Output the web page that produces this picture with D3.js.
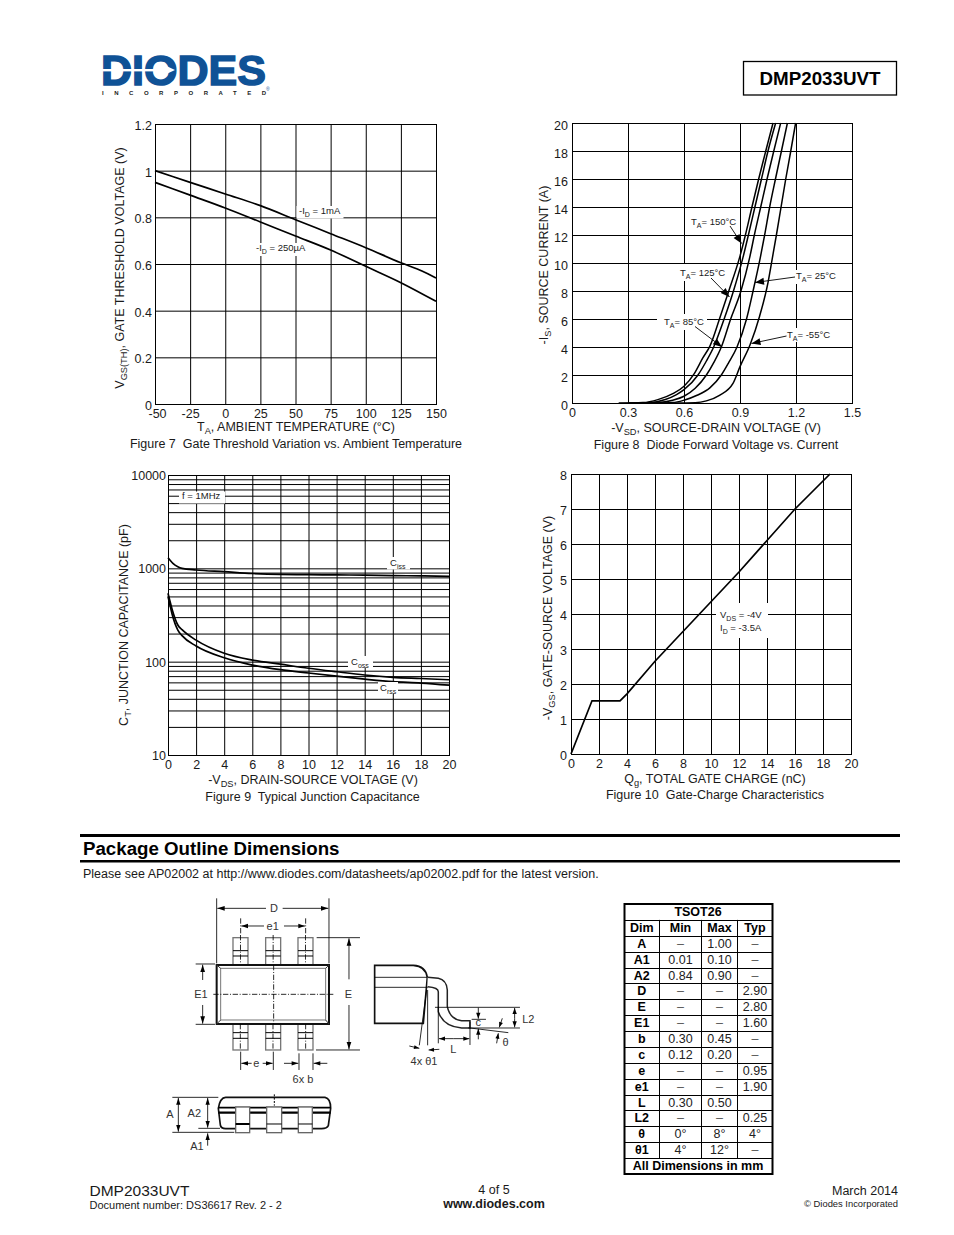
<!DOCTYPE html>
<html><head><meta charset="utf-8">
<script src="https://cdn.jsdelivr.net/npm/d3@7/dist/d3.min.js"></script>
<style>
html,body{margin:0;padding:0;background:#fff}
svg{display:block}
text{font-family:"Liberation Sans",Arial,sans-serif;fill:#1a1a1a;white-space:pre}
</style></head><body>
<svg id="page" width="954" height="1235"></svg>
<script>
// ---------- Data ----------
// Figure 7
const fig7Temp1mA   = [-50,-25,0,25,50,75,100,125,140,150];
const fig7Vth1mA    = [1.0,.95,.90,.85,.79,.73,.67,.605,.57,.54];
const fig7Temp250uA = [-50,-25,0,25,50,75,100,125,150];
const fig7Vth250uA  = [.95,.895,.84,.78,.72,.66,.59,.52,.44];
const fig7XTicks = [-50,-25,0,25,50,75,100,125,150];
const fig7YTicks = [0,.2,.4,.6,.8,1,1.2];
// Figure 8 (V, A)
const fig8V150 = [.25,.38,.46,.54,.60,.655,.70,.74,.79,.84,.898,.929,.964,1.0,1.038,1.077];
const fig8I150 = [0,.03,.24,.67,1.2,2.1,3.2,4.1,6,8,10.4,12,14,16,18,20];
const fig8V125 = [.30,.42,.50,.56,.60,.675,.72,.759,.815,.865,.916,.945,.98,1.015,1.05,1.091];
const fig8I125 = [0,.03,.25,.6,.95,2,3,4,6,8,10.4,12,14,16,18,20];
const fig8V85  = [.35,.46,.54,.60,.66,.72,.76,.80,.85,.905,.952,.977,1.011,1.045,1.081,1.118];
const fig8I85  = [0,.03,.2,.48,1.05,2,2.9,4,6,8,10.4,12,14,16,18,20];
const fig8V25  = [.45,.54,.60,.67,.74,.80,.84,.884,.935,.97,1.009,1.032,1.059,1.09,1.122,1.154];
const fig8I25  = [0,.03,.2,.55,1.1,2,2.9,4,6,8,10.4,12,14,16,18,20];
const fig8Vm55 = [.55,.66,.72,.79,.8625,.90,.955,1.005,1.05,1.074,1.095,1.12,1.145,1.172,1.198];
const fig8Im55 = [0,.02,.15,.55,1.4,2.6,4.2,6.2,8.6,10.4,12,14,16,18,20];
const fig8XTicks = [0,.3,.6,.9,1.2,1.5];
const fig8YTicks = [0,2,4,6,8,10,12,14,16,18,20];
// Figure 9 (V, pF)
const fig9VCiss = [0,.15,.35,.7,1,2,4,6,8,10,12,14,16,18,20];
const fig9Ciss  = [1300,1220,1130,1040,1000,960,920,880,860,855,850,845,835,830,820];
const fig9VCoss = [0,.1,.3,.7,1,2,4,6,8,10,12,14,16,18,20];
const fig9Coss  = [540,470,360,247,220,170,123,104,94,85,78,72,68,66,64];
const fig9VCrss = [0,.1,.3,.7,1,2,4,6,8,10,12,14,16,18,20];
const fig9Crss  = [500,430,320,218,190,147,110,92,82,75.6,70,65,61,59,56];
const fig9XTicks = [0,2,4,6,8,10,12,14,16,18,20];
const fig9YLabels = [10,100,1000,10000];
const fig9YGrid = [20,30,40,50,60,70,80,90,100,200,300,400,500,600,700,800,900,1000,2000,3000,4000,5000,6000,7000,8000,9000,10000];
// Figure 10
const fig10Qg  = [0,1.5,3.5,4,6,8,10,12,14,16,18.5];
const fig10Vgs = [0,1.52,1.52,1.72,2.65,3.5,4.35,5.2,6.1,7,8];
const fig10XTicks = [0,2,4,6,8,10,12,14,16,18,20];
const fig10YTicks = [0,1,2,3,4,5,6,7,8];
// Dimensions table
const tableHeader = ["Dim","Min","Max","Typ"];
const tableDims = ["A","A1","A2","D","E","E1","b","c","e","e1","L","L2","θ","θ1"];
const tableMin  = ["–","0.01","0.84","–","–","–","0.30","0.12","–","–","0.30","–","0°","4°"];
const tableMax  = ["1.00","0.10","0.90","–","–","–","0.45","0.20","–","–","0.50","–","8°","12°"];
const tableTyp  = ["–","–","–","2.90","2.80","1.60","–","–","0.95","1.90","","0.25","4°","–"];

// ---------- Helpers ----------
const svg = d3.select("#page");
const INK = "#000";
const TITLE = 12.5, TICK = 12.5;

function rich(g, x, y, parts, o={}){
  const size = o.size||TITLE, t = g.append("text").attr("x",x).attr("y",y)
    .attr("font-size",size).attr("text-anchor",o.anchor||"start");
  if(o.weight) t.attr("font-weight",o.weight);
  if(o.rotate) t.attr("transform",`rotate(-90 ${x} ${y})`);
  let back = 0;
  parts.forEach(p=>{
    if(Array.isArray(p)){
      t.append("tspan").attr("font-size",size*.74).attr("dy",size*.27).text(p[0]);
      back = -size*.27;
    } else {
      const s=t.append("tspan").text(p);
      if(back) s.attr("dy",back);
      back = 0;
    }
  });
  return t;
}
function styleAxis(sel,shiftY){
  sel.select(".domain").remove();
  sel.selectAll("line").attr("stroke",INK).attr("stroke-width",1);
  sel.selectAll("text").attr("font-size",TICK).attr("fill","#1a1a1a")
    .attr("font-family",'"Liberation Sans",Arial,sans-serif');
  if(shiftY) sel.selectAll("text").attr("transform",`translate(0,${shiftY})`);
}
function makeFrame(left,top){
  return svg.append("g").attr("transform",`translate(${left},${top})`);
}
function frameRect(g,w,h){
  g.append("rect").attr("x",.5).attr("y",.5).attr("width",w).attr("height",h)
    .attr("fill","none").attr("stroke",INK).attr("stroke-width",1);
}
function curve(g,xs,ys,x,y,w=1.7){
  const line=d3.line().x(d=>x(d[0])).y(d=>y(d[1])).curve(d3.curveMonotoneX);
  g.append("path").attr("d",line(d3.zip(xs,ys))).attr("fill","none")
    .attr("stroke",INK).attr("stroke-width",w).attr("stroke-linejoin","round");
}
function whiteBox(x0,y0,x1,y1){
  svg.append("rect").attr("x",x0).attr("y",y0).attr("width",x1-x0).attr("height",y1-y0).attr("fill","#fff");
}
function arrowHead(g,x1,y1,x2,y2,len,wid,fill){
  const a=Math.atan2(y2-y1,x2-x1),c=Math.cos(a),s=Math.sin(a);
  const bx=x2-len*c,by=y2-len*s;
  g.append("polygon").attr("points",[[x2,y2],[bx-s*wid/2,by+c*wid/2],[bx+s*wid/2,by-c*wid/2]].map(p=>p.join(",")).join(" "))
    .attr("fill",fill||INK);
}
function seg(g,x1,y1,x2,y2,w,col,dash){
  const l=g.append("line").attr("x1",x1).attr("y1",y1).attr("x2",x2).attr("y2",y2)
    .attr("stroke",col||INK).attr("stroke-width",w||1);
  if(dash) l.attr("stroke-dasharray",dash);
  return l;
}
function arrow(g,x1,y1,x2,y2,w=1,len=8,wid=6){ seg(g,x1,y1,x2,y2,w); arrowHead(g,x1,y1,x2,y2,len,wid); }

// ---------- Page furniture ----------
// Logo
const logo = svg.append("g");
logo.append("text").attr("x",101).attr("y",85).attr("font-size",43).attr("font-weight","bold")
  .attr("textLength",165).attr("lengthAdjust","spacingAndGlyphs")
  .style("fill","#0f5296").style("stroke","#0f5296").style("stroke-width",1.5).text("DIODES");
logo.append("rect").attr("x",101).attr("y",69).attr("width",62).attr("height",2.4).attr("fill","#fff");
logo.append("polygon").attr("points","160,63 160,77 175,70").attr("fill","#fff");
logo.append("text").attr("x",102).attr("y",95).attr("font-size",6).attr("font-weight","bold")
  .attr("textLength",164).attr("lengthAdjust","spacing").style("fill","#222").text("INCORPORATED");
logo.append("text").attr("x",266).attr("y",91).attr("font-size",5).style("fill","#0f5296").text("®");

// Part number box
svg.append("rect").attr("x",743.5).attr("y",61.5).attr("width",153).attr("height",33.5)
  .attr("fill","none").attr("stroke",INK).attr("stroke-width",1.3);
svg.append("text").attr("x",820).attr("y",85).attr("text-anchor","middle").attr("font-size",18.8)
  .attr("font-weight","bold").style("fill","#000").text("DMP2033UVT");

// ---------- Figure 7 ----------
{
  const w=281,h=280,g=makeFrame(155,124);
  const x=d3.scaleLinear().domain([-50,150]).range([0,w]);
  const y=d3.scaleLinear().domain([0,1.2]).range([h,0]);
  g.append("g").attr("transform",`translate(0,${h})`)
    .call(d3.axisBottom(x).tickValues(fig7XTicks).tickSize(-h).tickSizeOuter(0).tickPadding(5).tickFormat(d=>String(d)))
    .call(s=>styleAxis(s,0))
    .call(s=>s.select("g.tick text").attr("dx",2));
  g.append("g").call(d3.axisLeft(y).tickValues(fig7YTicks).tickSize(-w).tickSizeOuter(0).tickPadding(3).tickFormat(d=>d===0||d===1?d:d3.format(".1f")(d)))
    .call(s=>styleAxis(s,1.5));
  frameRect(g,w,h);
  whiteBox(296.5,206,343.5,218.5);
  whiteBox(256,243,307,256);
  curve(g,fig7Temp1mA,fig7Vth1mA,x,y);
  curve(g,fig7Temp250uA,fig7Vth250uA,x,y);
  rich(svg,299,214,["-I",["D"]," = 1mA"],{size:9.5});
  rich(svg,256,251,["-I",["D"]," = 250µA"],{size:9.5});
}
rich(svg,296,431,["T",["A"],", AMBIENT TEMPERATURE (°C)"],{anchor:"middle"});
rich(svg,124,268,["V",["GS(TH)"],", GATE THRESHOLD VOLTAGE (V)"],{anchor:"middle",rotate:true});
svg.append("text").attr("x",296).attr("y",448).attr("text-anchor","middle").attr("font-size",TITLE)
  .text("Figure 7  Gate Threshold Variation vs. Ambient Temperature");

// ---------- Figure 8 ----------
{
  const w=280,h=280,g=makeFrame(572,123);
  const x=d3.scaleLinear().domain([0,1.5]).range([0,w]);
  const y=d3.scaleLinear().domain([0,20]).range([h,0]);
  g.append("g").attr("transform",`translate(0,${h})`)
    .call(d3.axisBottom(x).tickValues(fig8XTicks).tickSize(-h).tickSizeOuter(0).tickPadding(5).tickFormat(d=>d===0?"0":d3.format(".1f")(d)))
    .call(s=>styleAxis(s,0));
  g.append("g").call(d3.axisLeft(y).tickValues(fig8YTicks).tickSize(-w).tickSizeOuter(0).tickPadding(4))
    .call(s=>styleAxis(s,2.2));
  frameRect(g,w,h);
  whiteBox(688,215,737,229);
  whiteBox(674,264,726,281);
  whiteBox(794,270,838,284);
  whiteBox(657,314,707,330);
  whiteBox(785,328,832,342);
  curve(g,fig8V150,fig8I150,x,y,1.5);
  curve(g,fig8V125,fig8I125,x,y,1.5);
  curve(g,fig8V85,fig8I85,x,y,1.5);
  curve(g,fig8V25,fig8I25,x,y,1.5);
  curve(g,fig8Vm55,fig8Im55,x,y,1.5);
  const lab=[["= 150°C",691,225],["= 125°C",680,276],["= 25°C",796,279],["= 85°C",664,325],["= -55°C",787,338]];
  lab.forEach(l=>rich(svg,l[1],l[2],["T",["A"],l[0]],{size:9.5}));
  arrow(svg,730,226,741.5,243.5,.9,9,7);
  arrow(svg,711,278,729.5,297,.9,9,7);
  arrow(svg,695,326.5,722,347,.9,9,7);
  arrow(svg,795,277,755,282.5,.9,9,7);
  arrow(svg,786.5,336,751.5,343.5,.9,9,7);
}
rich(svg,716,432,["-V",["SD"],", SOURCE-DRAIN VOLTAGE (V)"],{anchor:"middle"});
rich(svg,548,265,["-I",["S"],", SOURCE CURRENT (A)"],{anchor:"middle",rotate:true});
svg.append("text").attr("x",716).attr("y",449).attr("text-anchor","middle").attr("font-size",TITLE)
  .text("Figure 8  Diode Forward Voltage vs. Current");

// ---------- Figure 9 ----------
{
  const w=281,h=280,g=makeFrame(168,475);
  const x=d3.scaleLinear().domain([0,20]).range([0,w]);
  const y=d3.scaleLog().domain([10,10000]).range([h,0]);
  g.append("g").attr("transform",`translate(0,${h})`)
    .call(d3.axisBottom(x).tickValues(fig9XTicks).tickSize(-h).tickSizeOuter(0).tickPadding(5))
    .call(s=>styleAxis(s,0));
  g.append("g").call(d3.axisLeft(y).tickValues(fig9YGrid).tickSize(-w).tickSizeOuter(0).tickFormat(()=>""))
    .call(s=>styleAxis(s,0));
  g.append("g").call(d3.axisLeft(y).tickValues(fig9YLabels).tickSize(0).tickPadding(2).tickFormat(d3.format("d")))
    .call(s=>styleAxis(s,.6));
  frameRect(g,w,h);
  whiteBox(179,491.5,225,503.5);
  whiteBox(387,557,410,569.5);
  whiteBox(348,656,373,667.5);
  whiteBox(378,682,398,693.5);
  curve(g,fig9VCiss,fig9Ciss,x,y);
  curve(g,fig9VCoss,fig9Coss,x,y);
  curve(g,fig9VCrss,fig9Crss,x,y);
  svg.append("text").attr("x",182).attr("y",499).attr("font-size",9.5).text("f = 1MHz");
  rich(svg,390,566,["C",["iss"]],{size:9.5});
  rich(svg,351,665,["C",["oss"]],{size:9.5});
  rich(svg,380,691,["C",["rss"]],{size:9.5});
}
rich(svg,313,784,["-V",["DS"],", DRAIN-SOURCE VOLTAGE (V)"],{anchor:"middle"});
rich(svg,128,625,["C",["T"],", JUNCTION CAPACITANCE (pF)"],{anchor:"middle",rotate:true});
svg.append("text").attr("x",312.5).attr("y",801).attr("text-anchor","middle").attr("font-size",TITLE)
  .text("Figure 9  Typical Junction Capacitance");

// ---------- Figure 10 ----------
{
  const w=280,h=280,g=makeFrame(571,474);
  const x=d3.scaleLinear().domain([0,20]).range([0,w]);
  const y=d3.scaleLinear().domain([0,8]).range([h,0]);
  g.append("g").attr("transform",`translate(0,${h})`)
    .call(d3.axisBottom(x).tickValues(fig10XTicks).tickSize(-h).tickSizeOuter(0).tickPadding(5))
    .call(s=>styleAxis(s,0));
  g.append("g").call(d3.axisLeft(y).tickValues(fig10YTicks).tickSize(-w).tickSizeOuter(0).tickPadding(4))
    .call(s=>styleAxis(s,1.2));
  frameRect(g,w,h);
  whiteBox(716,603,768,638);
  const line=d3.line().x(d=>x(d[0])).y(d=>y(d[1]));
  g.append("path").attr("d",line(d3.zip(fig10Qg,fig10Vgs))).attr("fill","none").attr("stroke",INK).attr("stroke-width",1.7);
  rich(svg,720,618,["V",["DS"]," = -4V"],{size:9.5});
  rich(svg,720,631,["I",["D"]," = -3.5A"],{size:9.5});
}
rich(svg,715,783,["Q",["g"],", TOTAL GATE CHARGE (nC)"],{anchor:"middle"});
rich(svg,552,618,["-V",["GS"],", GATE-SOURCE VOLTAGE (V)"],{anchor:"middle",rotate:true});
svg.append("text").attr("x",715).attr("y",799).attr("text-anchor","middle").attr("font-size",TITLE)
  .text("Figure 10  Gate-Charge Characteristics");

// ---------- Package section ----------
svg.append("rect").attr("x",80).attr("y",834).attr("width",820).attr("height",3).attr("fill",INK);
svg.append("rect").attr("x",80).attr("y",860).attr("width",820).attr("height",2.5).attr("fill",INK);
svg.append("text").attr("x",83).attr("y",855).attr("font-size",18.7).attr("font-weight","bold").style("fill","#000").text("Package Outline Dimensions");
svg.append("text").attr("x",83).attr("y",878).attr("font-size",12.5).text("Please see AP02002 at http://www.diodes.com/datasheets/ap02002.pdf for the latest version.");

// ---------- Package drawing (units: 1/3 px, origin of the crop) ----------
{
  const d=svg.append("g").attr("transform","translate(160,890) scale(.3333)");
  const GR="#777", T=(x,y,s,anchor="middle")=>d.append("text").attr("x",x).attr("y",y).attr("font-size",33).attr("text-anchor",anchor).style("fill","#333").text(s);
  const DASH="16 5 3 5";
  // leads
  [[219,264],[317,362],[414,459]].forEach(([a,b])=>{
    [[143,226,182,198],[402,480,428,445]].forEach(([t,bm,l1,l2])=>{
      d.append("rect").attr("x",a).attr("y",t).attr("width",b-a).attr("height",bm-t).attr("fill","#fff").attr("stroke",GR).attr("stroke-width",4);
      seg(d,a,l1,b,l1,3); seg(d,a,l2,b,l2,3);
    });
    seg(d,(a+b)/2,135,(a+b)/2,226,2.5,INK,DASH);
  });
  // body
  d.append("rect").attr("x",170).attr("y",225).attr("width",337).attr("height",177).attr("fill","#fff").attr("stroke","#111").attr("stroke-width",6);
  d.append("rect").attr("x",182).attr("y",235).attr("width",315).attr("height",155).attr("fill","none").attr("stroke",GR).attr("stroke-width",3);
  [[170,225,182,235],[507,225,497,235],[170,402,182,390],[507,402,497,390]].forEach(p=>seg(d,...p,3,"#333"));
  seg(d,160,313,520,313,2.5,INK,DASH);
  seg(d,341,225,341,402,2.5,INK,DASH);
  [241,339,437].forEach(x=>seg(d,x,402,x,480,2.5,INK,DASH));
  // dims D, e1
  seg(d,170,25,170,220,2.5); seg(d,507,25,507,220,2.5);
  arrow(d,318,55,172,55,2.5,22,14); arrow(d,368,55,505,55,2.5,22,14); T(342,67,"D");
  seg(d,242,85,242,135,2.5,INK,DASH); seg(d,437,85,437,135,2.5,INK,DASH);
  arrow(d,312,108,244,108,2.5,20,13); arrow(d,372,108,435,108,2.5,20,13); T(338,120,"e1");
  // E, E1
  seg(d,470,143,600,143,2.5); seg(d,468,480,600,480,2.5);
  arrow(d,567,268,567,145,2.5,22,14); arrow(d,567,345,567,478,2.5,22,14); T(565,324,"E");
  seg(d,107,222,165,222,2.5); seg(d,107,403,165,403,2.5);
  arrow(d,128,270,128,224,2.5,22,14); arrow(d,128,345,128,401,2.5,22,14); T(123,324,"E1");
  // e, 6x b
  seg(d,242,485,242,540,2.5); seg(d,340,485,340,540,2.5);
  arrow(d,275,520,244,520,2.5,20,13); arrow(d,308,520,338,520,2.5,20,13); T(289,532,"e");
  seg(d,417,490,417,540,2.5); seg(d,459,490,459,540,2.5);
  arrow(d,372,520,415,520,2.5,20,13); arrow(d,502,520,461,520,2.5,20,13); T(429,578,"6x b");
  // side view
  d.append("path").attr("d","M644,226 L760,226 Q797,228 802,262 L790,400 L644,400 Z").attr("fill","#fff").attr("stroke","#111").attr("stroke-width",5);
  seg(d,644,262,803,262,2.5); seg(d,644,292,803,292,2.5);
  d.append("path").attr("d","M803,262 L835,265 Q860,270 862,300 L862,350 Q870,388 905,392 L930,392 L930,414 L905,414 Q850,410 835,365 L835,305 Q835,292 803,290")
    .attr("fill","#fff").attr("stroke","#222").attr("stroke-width",4.5);
  seg(d,825,352,1080,352,2.5); seg(d,925,414,1080,414,2.5);
  arrow(d,1064,385,1064,354,2.5,18,13); arrow(d,1064,385,1064,412,2.5,18,13); T(1105,400,"L2");
  arrow(d,955,353,955,386,2.5,18,13); seg(d,935,388,978,388,2.5); arrow(d,955,448,955,416,2.5,18,13); T(955,408,"c");
  seg(d,835,350,835,460,2.5); seg(d,930,395,930,465,2.5);
  arrow(d,880,446,837,446,2.5,18,13); arrow(d,880,446,928,446,2.5,18,13); T(880,490,"L");
  seg(d,930,414,1045,428,2.5);
  arrow(d,1027,385,1018,412,2.5,16,12); arrow(d,1010,460,1015,430,2.5,16,12); T(1037,468,"θ");
  seg(d,800,300,778,466,2.5); seg(d,803,300,803,466,2.5);
  arrow(d,748,468,778,475,2.5,16,12); arrow(d,838,478,806,480,2.5,16,12); T(792,525,"4x θ1");
}
{
  const d=svg.append("g").attr("transform","translate(165,1085) scale(.3333)");
  const T=(x,y,s)=>d.append("text").attr("x",x).attr("y",y).attr("font-size",33).attr("text-anchor","middle").style("fill","#333").text(s);
  d.append("path").attr("d","M160,70 Q165,38 182,37 L480,37 Q497,40 497,70 L490,122 Q486,131 470,131 L182,131 Q168,131 166,120 Z").attr("fill","#fff").attr("stroke","#111").attr("stroke-width",5);
  seg(d,160,68,497,68,5); seg(d,160,83,497,83,7);
  [[212,254,1],[305,350,0],[400,442,0]].forEach(([a,b,k])=>{
    d.append("rect").attr("x",a).attr("y",66).attr("width",b-a).attr("height",77).attr("fill","#fff").attr("stroke","#666").attr("stroke-width",4);
    seg(d,a,117,b,117,k?6:3);
  });
  seg(d,328,28,328,62,3,INK,"6 4");
  seg(d,22,37,160,37,2.5); seg(d,22,142,208,142,2.5); seg(d,100,130,165,130,2.5);
  arrow(d,40,90,40,39,2.5,20,13); arrow(d,40,90,40,140,2.5,20,13); T(15,99,"A");
  arrow(d,128,90,128,39,2.5,20,13); arrow(d,128,90,128,128,2.5,20,13); T(88,96,"A2");
  arrow(d,128,182,128,145,2.5,20,13); T(96,194,"A1");
}

// ---------- Dimensions table ----------
{
  const tg=svg.append("g");
  const colEdges=[624,659.5,701.5,737.5,772.5];
  const rowY=d3.scaleLinear().domain([0,17]).range([904,1174]);
  const colMid=i=>(colEdges[i]+colEdges[i+1])/2;
  const rows=tableDims.map((dim,i)=>[dim,tableMin[i],tableMax[i],tableTyp[i]]);
  const tx=(x,i,s,bold,col)=>tg.append("text").attr("x",x).attr("y",rowY(i)+12).attr("text-anchor","middle").attr("font-size",12.5)
      .attr("font-weight",bold?"bold":null).style("fill",col||"#222").text(s);
  d3.range(1,17).forEach(i=>seg(tg,624,Math.round(rowY(i))+.5,772.5,Math.round(rowY(i))+.5,1));
  colEdges.slice(1,4).forEach(x=>seg(tg,x,rowY(1),x,rowY(16),1));
  tg.append("rect").attr("x",624.5).attr("y",904).attr("width",148).attr("height",270).attr("fill","none").attr("stroke",INK).attr("stroke-width",2);
  tx(698,0,"TSOT26",true,"#000");
  tableHeader.forEach((s,c)=>tx(colMid(c),1,s,true,"#000"));
  rows.forEach((r,i)=>r.forEach((s,c)=>{ if(s) tx(colMid(c),i+2,s,c===0,c===0?"#000":(s==="–"?"#555":"#222")); }));
  tx(698,16,"All Dimensions in mm",true,"#000");
}

// ---------- Footer ----------
const foot=(x,y,s,size,anchor,weight)=>svg.append("text").attr("x",x).attr("y",y).attr("font-size",size).attr("text-anchor",anchor).attr("font-weight",weight||null).text(s);
foot(89.5,1196,"DMP2033UVT",15.5,"start");
foot(89.5,1209,"Document number: DS36617 Rev. 2 - 2",11,"start");
foot(494,1194,"4 of 5",12.5,"middle");
foot(494,1208,"www.diodes.com",12.5,"middle","bold");
foot(898,1195,"March 2014",12.5,"end");
foot(898,1207,"© Diodes Incorporated",9.4,"end");
</script>
</body></html>
